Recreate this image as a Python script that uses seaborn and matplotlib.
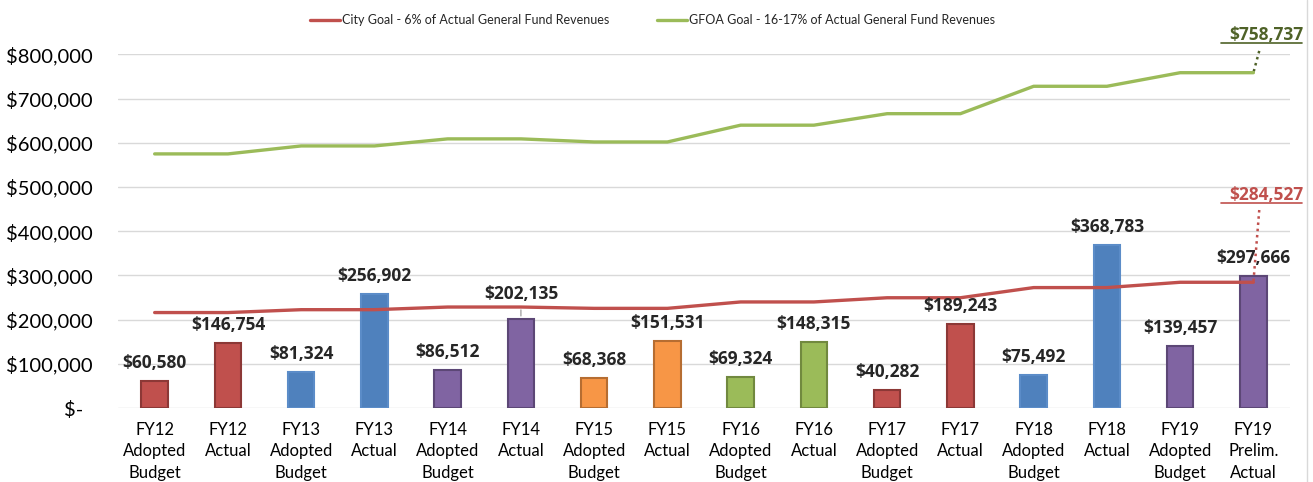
import matplotlib
matplotlib.use("Agg")
import matplotlib.pyplot as plt
import numpy as np
import seaborn as sns
from matplotlib.lines import Line2D

categories = [
    "FY12\nAdopted\nBudget", "FY12\nActual",
    "FY13\nAdopted\nBudget", "FY13\nActual",
    "FY14\nAdopted\nBudget", "FY14\nActual",
    "FY15\nAdopted\nBudget", "FY15\nActual",
    "FY16\nAdopted\nBudget", "FY16\nActual",
    "FY17\nAdopted\nBudget", "FY17\nActual",
    "FY18\nAdopted\nBudget", "FY18\nActual",
    "FY19\nAdopted\nBudget", "FY19\nPrelim.\nActual",
]
fund_balance = [60580, 146754, 81324, 256902, 86512, 202135, 68368, 151531,
                69324, 148315, 40282, 189243, 75492, 368783, 139457, 297666]
city_goal = [216000, 216000, 222500, 222500, 228500, 228500, 225500, 225500,
             240000, 240000, 249500, 249500, 272500, 272500, 284527, 284527]
gfoa_goal = [575000, 575000, 593000, 593000, 609000, 609000, 602000, 602000,
             640000, 640000, 666000, 666000, 728000, 728000, 758737, 758737]

RED, BLUE, PURPLE, ORANGE, GREEN = "#C0504D", "#4F81BD", "#8064A2", "#F79646", "#9BBB59"
edge = {RED: "#8C3836", BLUE: "#5B8CC8", PURPLE: "#5C4776", ORANGE: "#B66D31", GREEN: "#71893F"}
year_colors = [RED, BLUE, PURPLE, ORANGE, GREEN, RED, BLUE, PURPLE]
bar_colors = [c for c in year_colors for _ in range(2)]

sns.set_style("white")
plt.rcParams["font.family"] = ["Lato", "DejaVu Sans"]
BOLD = ["Open Sans", "DejaVu Sans"]

fig = plt.figure(figsize=(13.13, 4.82), dpi=100)
ax = fig.add_axes([0.0899, 0.1535, 0.8926, 0.7335])

x = np.arange(len(categories))
sns.barplot(x=categories, y=fund_balance, hue=categories, palette=bar_colors,
            legend=False, width=0.36, saturation=1, ax=ax, zorder=2)
for patch, c in zip(ax.patches, bar_colors):
    patch.set_edgecolor(edge[c])
    patch.set_linewidth(1.5)

sns.lineplot(x=x, y=city_goal, color=RED, lw=2.4, ax=ax, zorder=3,
             label="City Goal - 6% of Actual General Fund Revenues")
sns.lineplot(x=x, y=gfoa_goal, color=GREEN, lw=2.4, ax=ax, zorder=3,
             label="GFOA Goal - 16-17% of Actual General Fund Revenues")

ax.set_xlim(-0.5, len(categories) - 0.5)
ax.set_ylim(0, 800000)
ax.set_yticks(np.arange(0, 800001, 100000))
ax.set_yticklabels(["$-  "] + [f"${v:,.0f}" for v in np.arange(100000, 800001, 100000)])
ax.set_xticks(x)
ax.set_xticklabels(categories, fontsize=12, linespacing=1.42)
ax.tick_params(axis="y", labelsize=14.5, length=0, pad=18, colors="black")
ax.tick_params(axis="x", length=0, pad=10, colors="black")
ax.grid(axis="y", color="#D9D9D9", lw=1, zorder=0)
ax.set_axisbelow(True)
for s in ["top", "right", "left", "bottom"]:
    ax.spines[s].set_visible(False)

# data labels on bars
for i, v in enumerate(fund_balance):
    off = 18 if i == 5 else 13
    ax.annotate(f"${v:,.0f}", (i, v), xytext=(0, off), textcoords="offset points",
                ha="center", va="center", fontsize=12.5, fontweight="bold",
                family=BOLD, zorder=5)
ax.annotate("", (5, fund_balance[5]), xytext=(5, fund_balance[5] + 26000),
            arrowprops=dict(arrowstyle="-", color="#A6A6A6", lw=1))

# end-point labels for the goal lines
for val, col, ty, uy, dy in [(gfoa_goal[-1], "#4F6228", 844000, 826000, 808000),
                              (city_goal[-1], RED, 482000, 464000, 448000)]:
    ax.text(15.17, ty, f"${val:,.0f}", ha="center", va="center", fontsize=12.5,
            fontweight="bold", family=BOLD, color=col, clip_on=False)
    ax.plot([14.56, 15.67], [uy, uy], color=col, lw=1.2, clip_on=False)
    ax.plot([15.08, 15.0], [dy, val], color=col, lw=1.8, ls=(0, (1, 1.5)), clip_on=False)

handles, labels = ax.get_legend_handles_labels()
ax.get_legend().remove()
fig.legend(handles, labels, loc="center", bbox_to_anchor=(0.497, 0.958), ncol=2,
           frameon=False, fontsize=9, handlelength=2.4, handletextpad=0.15,
           columnspacing=3.8)

fig.add_artist(Line2D([0.9955, 0.9955], [0.0, 1.0], color="#D9D9D9", lw=1))

fig.savefig("out.png", dpi=100)
